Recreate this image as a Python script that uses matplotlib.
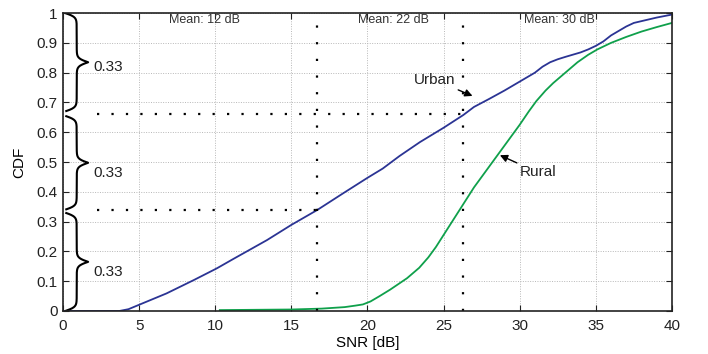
import numpy as np
import matplotlib
matplotlib.use("Agg")
import matplotlib.pyplot as plt

plt.rcParams['font.family'] = ['Liberation Sans', 'DejaVu Sans']

# urban CDF
urban_snr = [0, 3.7, 4.3, 5.1, 6.8, 8.6, 10.1, 11.2, 13.4, 15, 16.7, 18.4, 20, 21,
             22.1, 23.45, 25, 26.3, 27, 28, 29, 30, 31, 31.5, 32, 32.5, 33, 34, 34.5,
             35, 35.5, 36, 36.5, 37, 37.5, 38, 39, 40]
urban_cdf = [0, 0, 0.006, 0.023, 0.059, 0.104, 0.143, 0.175, 0.238, 0.289, 0.339,
             0.395, 0.447, 0.478, 0.52, 0.567, 0.615, 0.658, 0.685, 0.712, 0.74, 0.77,
             0.80, 0.82, 0.835, 0.845, 0.853, 0.868, 0.878, 0.89, 0.905, 0.925, 0.94,
             0.955, 0.967, 0.973, 0.985, 0.995]

# rural CDF
rural_snr = [10.3, 15, 17, 18.5, 19.2, 19.7, 20.2, 20.8, 21.5, 22.6, 23.4, 24, 24.5,
             25, 25.5, 26, 26.5, 27, 27.5, 28, 28.5, 29, 29.5, 30, 30.6, 31.1, 31.7,
             32.2, 33, 33.8, 34.5, 35.1, 36, 37, 38, 39, 40]
rural_cdf = [0.003, 0.005, 0.008, 0.013, 0.018, 0.022, 0.032, 0.05, 0.072, 0.11, 0.145,
             0.18, 0.215, 0.255, 0.295, 0.335, 0.375, 0.415, 0.45, 0.485, 0.52, 0.555,
             0.59, 0.625, 0.67, 0.705, 0.74, 0.765, 0.80, 0.835, 0.86, 0.878, 0.90,
             0.92, 0.938, 0.953, 0.967]

mean_x = [16.7, 26.3]
split_y = [0.34, 0.66]
mean_labels = ["Mean: 12 dB", "Mean: 22 dB", "Mean: 30 dB"]
mean_label_x = [9.3, 21.7, 32.6]
brace_spans = [(0.0, 0.33), (0.34, 0.655), (0.67, 1.0)]
share_label_y = [0.13, 0.463, 0.82]

fig = plt.figure(figsize=(7.08, 3.54), dpi=100)
ax = fig.add_axes([0.089, 0.1215, 0.86, 0.8415])

ax.plot(urban_snr, urban_cdf, color='#2b3494', lw=1.3)
ax.plot(rural_snr, rural_cdf, color='#0fa04b', lw=1.3)

# dotted guide lines
ax.plot([2.2, mean_x[0]], [split_y[0]] * 2, color='black', lw=1.6, ls=(0, (1, 5.5)))
ax.plot([2.2, mean_x[1]], [split_y[1]] * 2, color='black', lw=1.6, ls=(0, (1, 5.5)))
for xm in mean_x:
    ax.plot([xm, xm], [0, 1], color='black', lw=1.6, ls=(0, (1, 6.5)))

for lab, xl in zip(mean_labels, mean_label_x):
    ax.text(xl, 0.977, lab, ha='center', va='center', fontsize=9, color='#333333')


# curly braces
def brace(y0, y1, xb=0.15, w=1.5):
    half = np.linspace(0, (y1 - y0) / 2, 200)
    beta = 150.0
    xh = 1 / (1 + np.exp(-beta * (half - half[0]))) + 1 / (1 + np.exp(-beta * (half - half[-1])))
    xs = np.concatenate([xh, xh[::-1]]) - 0.5
    ys = np.concatenate([y0 + half, y1 - half[::-1]])
    ax.plot(xb + w * xs, ys, color='black', lw=1.5, solid_capstyle='butt')


for (y0, y1), yl in zip(brace_spans, share_label_y):
    brace(y0, y1)
    ax.text(2.0, yl, "0.33", ha='left', va='center', fontsize=11, color='#222222')

ax.annotate("Urban", xy=(26.9, 0.722), xytext=(25.8, 0.775), ha='right', va='center',
            fontsize=11, color='#222222',
            arrowprops=dict(arrowstyle='-|>', color='black', lw=1.0, mutation_scale=11,
                            shrinkA=0, shrinkB=0))
ax.annotate("Rural", xy=(28.7, 0.523), xytext=(30.0, 0.465), ha='left', va='center',
            fontsize=11, color='#222222',
            arrowprops=dict(arrowstyle='-|>', color='black', lw=1.0, mutation_scale=11,
                            shrinkA=0, shrinkB=0))

ax.set_xlim(0, 40)
ax.set_ylim(0, 1)
ax.set_xticks(np.arange(0, 41, 5))
ax.set_yticks(np.round(np.arange(0, 1.01, 0.1), 1))
ax.set_yticklabels(['0', '0.1', '0.2', '0.3', '0.4', '0.5', '0.6', '0.7', '0.8', '0.9', '1'])
ax.grid(True, color='#b8b8b8', ls=(0, (1, 1.5)), lw=0.7)
ax.tick_params(direction='in', length=4, top=True, right=True, labelsize=11,
               colors='#222222', width=0.8)
ax.tick_params(axis='x', pad=6)
ax.tick_params(axis='y', pad=4)
for s in ax.spines.values():
    s.set_linewidth(1.2)
    s.set_color('#222222')
ax.set_xlabel("SNR [dB]", fontsize=11, labelpad=2)
ax.set_ylabel("CDF", fontsize=11, labelpad=7)

fig.savefig("out.png", dpi=100)
